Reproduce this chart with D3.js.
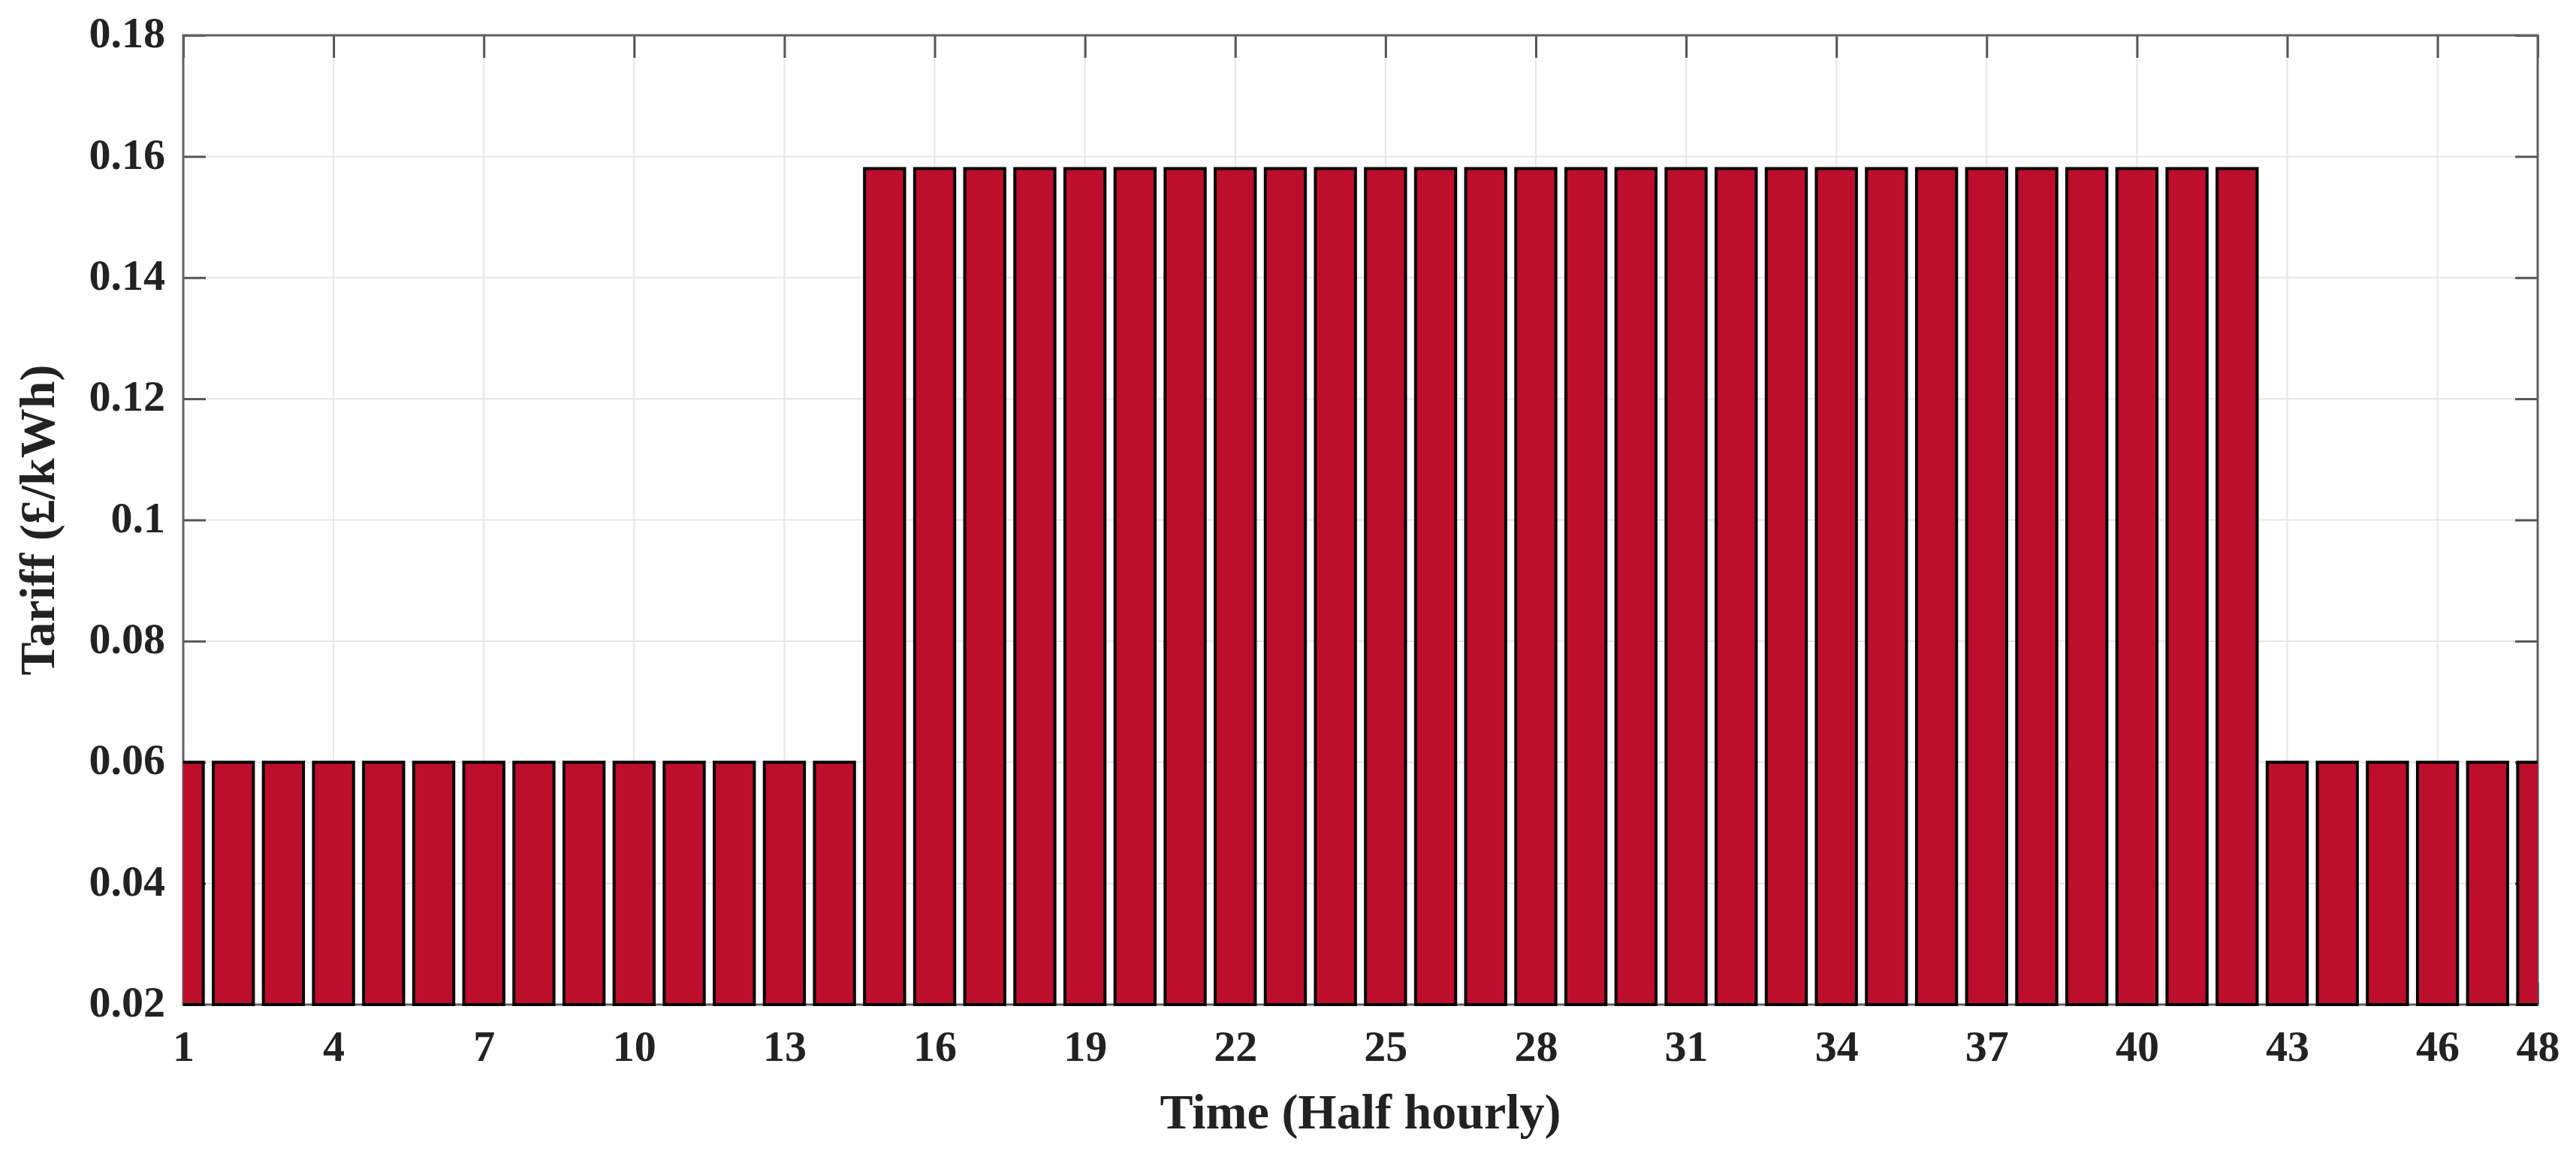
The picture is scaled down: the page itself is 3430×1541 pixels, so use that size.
<!DOCTYPE html>
<html><head><meta charset="utf-8">
<script src="https://cdn.jsdelivr.net/npm/d3@7"></script>
<style>html,body{margin:0;padding:0;background:#fff;} svg{display:block;}</style>
</head><body><svg id="chart" width="3430" height="1541"></svg>
<script>
// ---- data ----
const periods = [1,2,3,4,5,6,7,8,9,10,11,12,13,14,15,16,17,18,19,20,21,22,23,24,
                 25,26,27,28,29,30,31,32,33,34,35,36,37,38,39,40,41,42,43,44,45,46,47,48];
const tariff = [0.06,0.06,0.06,0.06,0.06,0.06,0.06,0.06,0.06,0.06,0.06,0.06,0.06,0.06,
                0.158,0.158,0.158,0.158,0.158,0.158,0.158,0.158,0.158,0.158,0.158,0.158,0.158,0.158,
                0.158,0.158,0.158,0.158,0.158,0.158,0.158,0.158,0.158,0.158,0.158,0.158,0.158,0.158,
                0.06,0.06,0.06,0.06,0.06,0.06];
const xTicks = [1,4,7,10,13,16,19,22,25,28,31,34,37,40,43,46,48];
const yTicks = [0.02,0.04,0.06,0.08,0.1,0.12,0.14,0.16,0.18];
const yTickLabels = ["0.02","0.04","0.06","0.08","0.1","0.12","0.14","0.16","0.18"];
const xTitle = "Time (Half hourly)";
const yTitle = "Tariff (£/kWh)";

// ---- layout ----
const L = 244, R = 3379, T = 47, B = 1338;
const font = "'Liberation Serif', 'Times New Roman', serif";
const svg = d3.select("#chart");

const x = d3.scaleLinear().domain([1, 48]).range([L, R]);
const y = d3.scaleLinear().domain([0.02, 0.18]).range([B, T]);
const barW = 0.8 * (x(2) - x(1));

// grid
const grid = svg.append("g");
grid.selectAll(".gx").data(xTicks).join("line")
  .attr("x1", d => x(d)).attr("x2", d => x(d)).attr("y1", T).attr("y2", B)
  .attr("stroke", "#e6e6e6").attr("stroke-width", 2);
grid.selectAll(".gy").data(yTicks).join("line")
  .attr("y1", d => y(d)).attr("y2", d => y(d)).attr("x1", L).attr("x2", R)
  .attr("stroke", "#e6e6e6").attr("stroke-width", 2);

// axes (ticks inward on all four sides)
const tickColor = "#555";
function styleAxis(g) {
  g.select(".domain").remove();
  g.selectAll(".tick line").attr("stroke", tickColor).attr("stroke-width", 3);
  g.selectAll(".tick text").attr("fill", "#222").attr("font-family", font)
    .attr("font-size", 58).attr("font-weight", "bold");
}
svg.append("g").attr("transform", `translate(0,${B})`)
  .call(d3.axisBottom(x).tickValues(xTicks).tickFormat(d3.format("d")).tickSizeInner(-30).tickSizeOuter(0).tickPadding(34))
  .call(styleAxis);
svg.append("g").attr("transform", `translate(0,${T})`)
  .call(d3.axisTop(x).tickValues(xTicks).tickFormat("").tickSizeInner(-30).tickSizeOuter(0))
  .call(styleAxis);
const gl = svg.append("g").attr("transform", `translate(${L},0)`)
  .call(d3.axisLeft(y).tickValues(yTicks).tickFormat((d, i) => yTickLabels[i]).tickSizeInner(-30).tickSizeOuter(0).tickPadding(24))
  .call(styleAxis);
gl.selectAll(".tick text").attr("dy", "0.27em");
svg.append("g").attr("transform", `translate(${R},0)`)
  .call(d3.axisRight(y).tickValues(yTicks).tickFormat("").tickSizeInner(-30).tickSizeOuter(0))
  .call(styleAxis);

// box
svg.append("rect").attr("x", L).attr("y", T).attr("width", R - L).attr("height", B - T)
  .attr("fill", "none").attr("stroke", "#606060").attr("stroke-width", 3);

// bars
svg.append("clipPath").attr("id", "plotclip").append("rect")
  .attr("x", L).attr("y", 0).attr("width", R - L).attr("height", B + 3);
svg.append("g").attr("clip-path", "url(#plotclip)")
  .selectAll("rect").data(periods).join("rect")
  .attr("x", (d) => x(d) - barW / 2)
  .attr("width", barW)
  .attr("y", (d, i) => y(tariff[i]))
  .attr("height", (d, i) => y(0.02) - y(tariff[i]))
  .attr("fill", "#BE0E2E").attr("stroke", "#000").attr("stroke-width", 4);

// titles
svg.append("text").attr("x", (L + R) / 2).attr("y", 1503)
  .attr("text-anchor", "middle").attr("font-family", font).attr("font-size", 66)
  .attr("font-weight", "bold").attr("fill", "#222").text(xTitle);
svg.append("text").attr("transform", `translate(72,${(T + B) / 2}) rotate(-90)`)
  .attr("text-anchor", "middle").attr("font-family", font).attr("font-size", 66)
  .attr("font-weight", "bold").attr("fill", "#222").text(yTitle);
</script>
</body></html>
